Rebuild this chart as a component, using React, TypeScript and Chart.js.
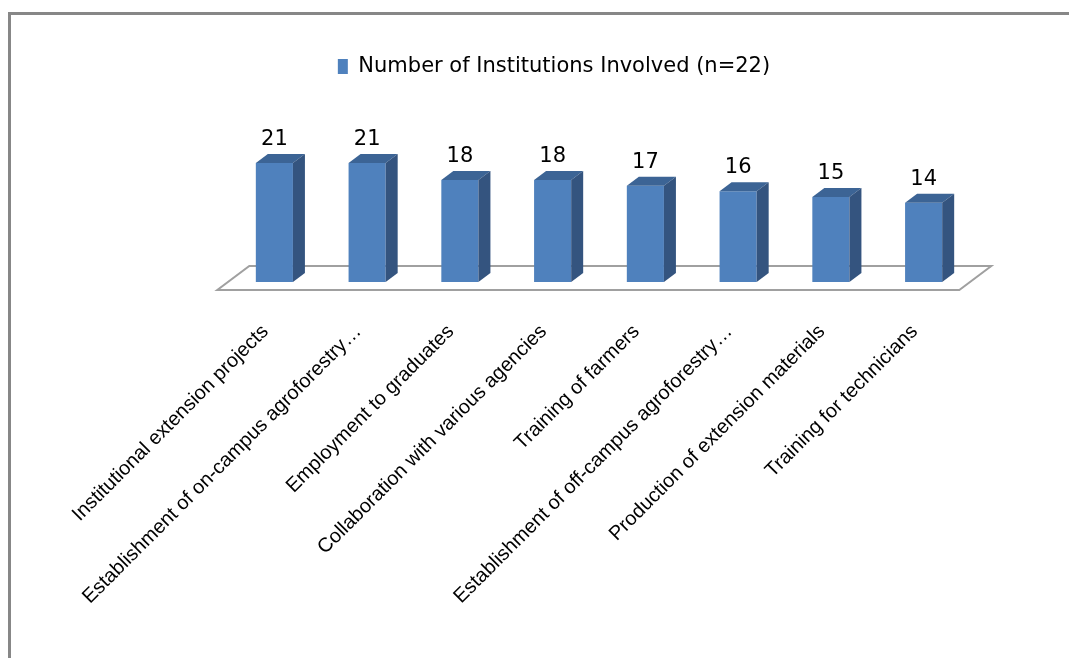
import React, { useEffect, useRef } from 'react';
import { Chart, registerables } from 'chart.js';

Chart.register(...registerables);

const categories: string[] = [
  'Institutional extension projects',
  'Establishment of on-campus agroforestry…',
  'Employment to graduates',
  'Collaboration with various agencies',
  'Training of farmers',
  'Establishment of off-campus agroforestry…',
  'Production of extension materials',
  'Training for technicians',
];
const institutionCounts: number[] = [21, 21, 18, 18, 17, 16, 15, 14];
const seriesLabel = 'Number of Institutions Involved (n=22)';

const FRONT = '#4F81BD';
const TOP = '#3C6495';
const SIDE = '#34547F';
const DEPTH_X = 12;
const DEPTH_Y = 9;

const framePlugin = {
  id: 'frame',
  beforeDraw(chart: any) {
    const ctx = chart.ctx;
    ctx.save();
    ctx.fillStyle = '#ffffff';
    ctx.fillRect(0, 0, chart.width, chart.height);
    ctx.strokeStyle = '#878787';
    ctx.lineWidth = 3;
    ctx.beginPath();
    ctx.moveTo(9.5, chart.height);
    ctx.lineTo(9.5, 13.5);
    ctx.lineTo(chart.width, 13.5);
    ctx.stroke();
    ctx.restore();
  },
};

const floorPlugin = {
  id: 'floor3d',
  beforeDatasetsDraw(chart: any) {
    const { ctx, chartArea } = chart;
    const base = chart.scales.y.getPixelForValue(0);
    const L = chartArea.left;
    const R = chartArea.right;
    const fx = -10.7, fy = 8, bx = 21.3, by = -16;
    ctx.save();
    ctx.beginPath();
    ctx.moveTo(L + fx, base + fy);
    ctx.lineTo(R + fx, base + fy);
    ctx.lineTo(R + bx, base + by);
    ctx.lineTo(L + bx, base + by);
    ctx.closePath();
    ctx.fillStyle = '#ffffff';
    ctx.fill();
    ctx.strokeStyle = '#A0A0A0';
    ctx.lineWidth = 2;
    ctx.stroke();
    ctx.restore();
  },
};

const bar3dPlugin = {
  id: 'bar3d',
  afterDatasetsDraw(chart: any) {
    const ctx = chart.ctx;
    const meta = chart.getDatasetMeta(0);
    const data = chart.data.datasets[0].data as number[];
    ctx.save();
    meta.data.forEach((bar: any, i: number) => {
      const { x, y, base, width } = bar.getProps(['x', 'y', 'base', 'width'], true);
      const l = x - width / 2;
      const r = x + width / 2;
      // top face
      ctx.beginPath();
      ctx.moveTo(l, y);
      ctx.lineTo(l + DEPTH_X, y - DEPTH_Y);
      ctx.lineTo(r + DEPTH_X, y - DEPTH_Y);
      ctx.lineTo(r, y);
      ctx.closePath();
      ctx.fillStyle = TOP;
      ctx.fill();
      // side face
      ctx.beginPath();
      ctx.moveTo(r, y);
      ctx.lineTo(r + DEPTH_X, y - DEPTH_Y);
      ctx.lineTo(r + DEPTH_X, base - DEPTH_Y);
      ctx.lineTo(r, base);
      ctx.closePath();
      ctx.fillStyle = SIDE;
      ctx.fill();
      // value label
      ctx.fillStyle = '#000000';
      ctx.font = '21px "DejaVu Sans"';
      ctx.textAlign = 'center';
      ctx.textBaseline = 'alphabetic';
      ctx.fillText(String(data[i]), x, y - DEPTH_Y - 9);
    });
    ctx.restore();
  },
};

export default function App() {
  const canvasRef = useRef<HTMLCanvasElement | null>(null);

  useEffect(() => {
    document.body.style.margin = '0';
    const canvas = canvasRef.current;
    if (!canvas) return;
    const chart = new Chart(canvas, {
      type: 'bar',
      data: {
        labels: categories,
        datasets: [
          {
            label: seriesLabel,
            data: institutionCounts,
            backgroundColor: FRONT,
            borderWidth: 0,
            categoryPercentage: 1,
            barPercentage: 0.4,
          },
        ],
      },
      options: {
        responsive: false,
        animation: false,
        devicePixelRatio: 1,
        layout: { padding: { left: 138, right: 99, top: 46, bottom: 0 } },
        plugins: {
          legend: {
            position: 'top',
            labels: {
              boxWidth: 10,
              boxHeight: 15,
              padding: 10,
              color: '#000000',
              font: { family: '"DejaVu Sans"', size: 21 },
            },
          },
          tooltip: { enabled: false },
        },
        scales: {
          x: {
            grid: { display: false },
            border: { display: false },
            ticks: {
              autoSkip: false,
              minRotation: 45,
              maxRotation: 45,
              padding: 30,
              labelOffset: -9,
              color: '#000000',
              font: { family: '"Liberation Sans", Arial', size: 20 },
            },
            afterFit: (scale: any) => {
              scale.height = 376;
            },
          },
          y: {
            min: 0,
            max: 34.4,
            grid: { display: false },
            border: { display: false },
            ticks: { display: false },
            afterFit: (scale: any) => {
              scale.width = 90;
            },
          },
        },
      },
      plugins: [framePlugin, floorPlugin, bar3dPlugin],
    });
    return () => chart.destroy();
  }, []);

  return (
    <div style={{ width: 1069, height: 658 }}>
      <canvas ref={canvasRef} width={1069} height={658} style={{ display: 'block' }} />
    </div>
  );
}
